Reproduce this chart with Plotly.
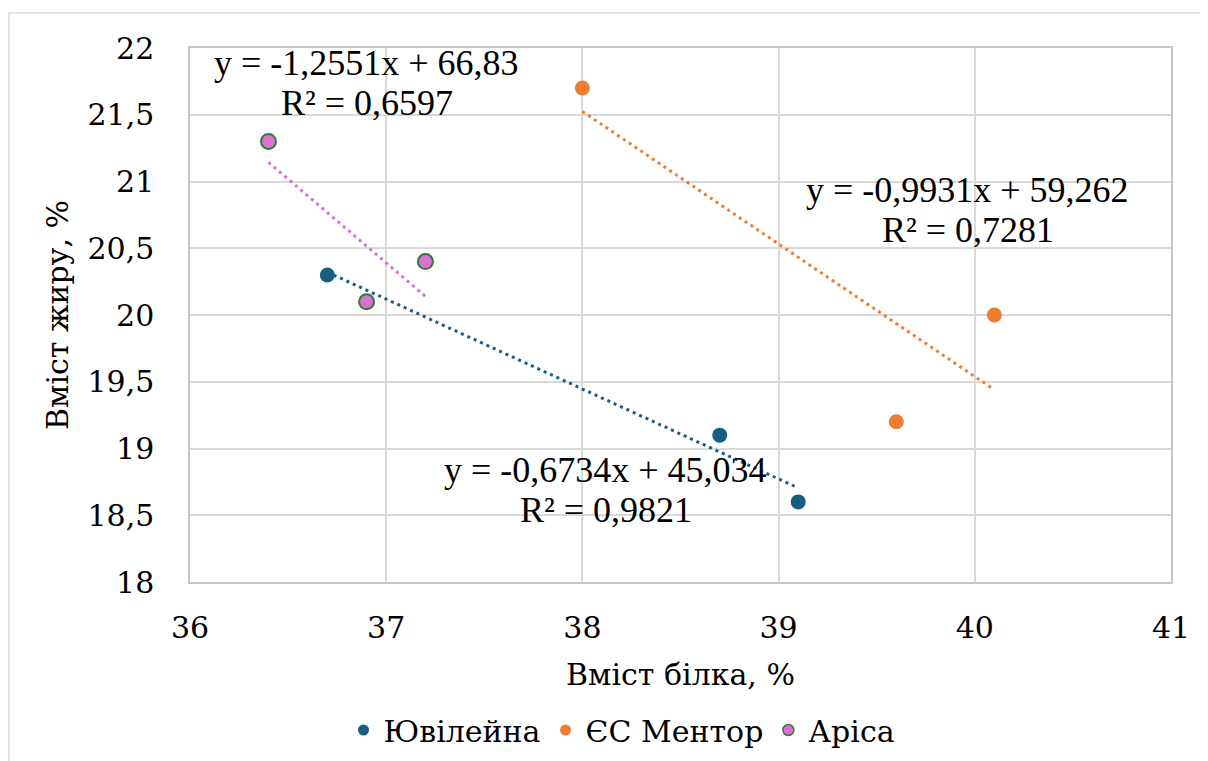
import numpy as np
import plotly.graph_objects as go

# ---- data ----
series_names = ["Ювілейна", "ЄС Ментор", "Аріса"]
jub_x = [36.7, 38.7, 39.1]
jub_y = [20.3, 19.1, 18.6]
men_x = [38.0, 39.6, 40.1]
men_y = [21.7, 19.2, 20.0]
ari_x = [36.4, 36.9, 37.2]
ari_y = [21.3, 20.1, 20.4]

eq_texts = ["y = -0,6734x + 45,034", "y = -0,9931x + 59,262", "y = -1,2551x + 66,83"]
r2_texts = ["R² = 0,9821", "R² = 0,7281", "R² = 0,6597"]
label_x = [38.12, 39.965, 36.9]
label_y = [18.84, 20.94, 21.89]
label_y2 = [18.54, 20.64, 21.59]

x_ticks = [36, 37, 38, 39, 40, 41]
y_ticks = [18, 18.5, 19, 19.5, 20, 20.5, 21, 21.5, 22]

colors = ["#175E82", "#ED7D31", "#DA70D6"]
outline = [None, None, "#2E7D32"]

FONT = "Liberation Serif"
AXFONT = "DejaVu Serif"
FS = 36
AFS = 30
OFF = 8

fig = go.Figure()
data = [(jub_x, jub_y), (men_x, men_y), (ari_x, ari_y)]

for i, (xs, ys) in enumerate(data):
    xs_a = np.array(xs); ys_a = np.array(ys)
    k, b = np.polyfit(xs_a, ys_a, 1)
    tx = np.array([xs_a.min(), xs_a.max()])
    fig.add_trace(go.Scatter(x=tx, y=k * tx + b, mode="lines",
                             line=dict(color=colors[i], width=3, dash="3px,4px"),
                             showlegend=False, hoverinfo="skip"))

for i, (xs, ys) in enumerate(data):
    mk = dict(color=colors[i], size=15)
    mk["line"] = dict(color=outline[i], width=2) if outline[i] else dict(color=colors[i], width=0)
    fig.add_trace(go.Scatter(x=xs, y=ys, mode="markers", marker=mk,
                             name=series_names[i], showlegend=False))
    lmk = dict(color=colors[i], size=11)
    lmk["line"] = dict(color=outline[i], width=1.5) if outline[i] else dict(width=0)
    fig.add_trace(go.Scatter(x=[None], y=[None], mode="markers", marker=lmk,
                             name=series_names[i], showlegend=True))

for i in range(3):
    fig.add_annotation(x=label_x[i], y=label_y[i], text=eq_texts[i], showarrow=False,
                       font=dict(family=FONT, size=FS, color="black"), xanchor="center", yanchor="middle")
    fig.add_annotation(x=label_x[i], y=label_y2[i], text=r2_texts[i], showarrow=False,
                       font=dict(family=FONT, size=FS, color="black"), xanchor="center", yanchor="middle")

L, T, R, B = 190, 48, 1171, 582
W = R - L; H = B - T
def px(x):
    return (x - L) / W
def py(y):
    return (B - y) / H
fig.add_shape(type="path", xref="paper", yref="paper",
              path=f"M {px(9)} {py(780)} L {px(9)} {py(13)} L {px(1225)} {py(13)}",
              line=dict(color="#D9D9D9", width=1.5))

fig.update_layout(
    template="none",
    width=1208, height=761,
    margin=dict(l=L - OFF, r=1208 - R + OFF, t=T - OFF, b=761 - B + OFF, autoexpand=False),
    paper_bgcolor="white", plot_bgcolor="white",
    separators=", ",
    font=dict(family=AXFONT, size=AFS, color="black"),
    showlegend=True,
    legend=dict(orientation="h", x=px(622), xanchor="center", y=py(730), yanchor="middle",
                font=dict(family=AXFONT, size=AFS, color="black"),
                itemwidth=30, tracegroupgap=0, bgcolor="rgba(0,0,0,0)"),
)
fig.update_xaxes(range=[36, 41], tickvals=x_ticks,
                 showgrid=True, gridcolor="#D9D9D9", gridwidth=1.5,
                 showline=True, linecolor="#C6C6C6", linewidth=1.5, mirror=True, zeroline=False,
                 ticks="", ticklabelstandoff=18, tickfont=dict(family=AXFONT, size=AFS, color="black"),
                 title=dict(text="Вміст білка, %", font=dict(family=AXFONT, size=AFS, color="black"), standoff=20),
                 automargin=False)
fig.update_yaxes(range=[18, 22], tickvals=y_ticks, showgrid=True, gridcolor="#D9D9D9", gridwidth=1.5,
                 showline=True, linecolor="#C6C6C6", linewidth=1.5, mirror=True, zeroline=False,
                 ticks="", ticklabelstandoff=28, tickfont=dict(family=AXFONT, size=AFS, color="black"),
                 title=dict(text="Вміст жиру, %", font=dict(family=AXFONT, size=AFS, color="black"), standoff=10),
                 automargin=False)

fig.write_html("out.html")
